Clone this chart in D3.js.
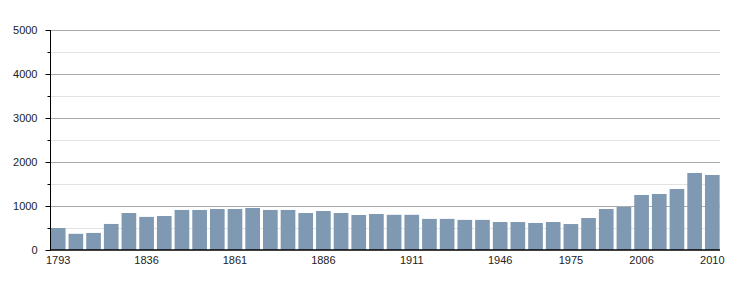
<!DOCTYPE html>
<html>
<head>
<meta charset="utf-8">
<script src="https://cdn.jsdelivr.net/npm/d3@7"></script>
<style>
  body { margin: 0; background: #fff; }
  svg text { font-family: "Liberation Sans", Arial, sans-serif; font-size: 11px; fill: #222; }
</style>
</head>
<body>
<div id="chart"></div>
<script>
const years = [1793, 1800, 1806, 1821, 1831, 1836, 1841, 1846, 1851, 1856,
  1861, 1866, 1872, 1876, 1881, 1886, 1891, 1896, 1901, 1906,
  1911, 1921, 1926, 1931, 1936, 1946, 1954, 1962, 1968, 1975,
  1982, 1990, 1999, 2006, 2007, 2008, 2009, 2010];
const population = [500, 368, 388, 592, 841, 752, 772, 910, 910, 932,
  932, 955, 910, 910, 841, 886, 841, 795, 818, 800,
  800, 707, 707, 684, 684, 636, 636, 614, 636, 590,
  727, 932, 977, 1250, 1273, 1386, 1750, 1705];
const labelYears = [1793, 1836, 1861, 1886, 1911, 1946, 1975, 2006, 2010];
const majorTicks = [0, 1000, 2000, 3000, 4000, 5000];
const minorTicks = [500, 1500, 2500, 3500, 4500];

const width = 750, height = 300;
const margin = { top: 30, right: 30, bottom: 50, left: 50 };

const svg = d3.select('#chart')
  .append('svg')
  .attr('width', width)
  .attr('height', height);

const x = d3.scaleBand()
  .domain(years.map(String))
  .range([margin.left + 0.5, width - margin.right])
  .paddingInner(0.17)
  .paddingOuter(0.02);

const y = d3.scaleLinear()
  .domain([0, 5000])
  .range([height - margin.bottom, margin.top]);

// grid lines
svg.selectAll('.minor')
  .data(minorTicks)
  .enter()
  .append('line')
  .attr('x1', margin.left)
  .attr('x2', width - margin.right)
  .attr('y1', d => Math.round(y(d)) + 0.5)
  .attr('y2', d => Math.round(y(d)) + 0.5)
  .attr('stroke', '#e2e2e2');

svg.selectAll('.major')
  .data(majorTicks.slice(1))
  .enter()
  .append('line')
  .attr('x1', margin.left)
  .attr('x2', width - margin.right)
  .attr('y1', d => Math.round(y(d)) + 0.5)
  .attr('y2', d => Math.round(y(d)) + 0.5)
  .attr('stroke', '#aaaaaa');

// bars
svg.selectAll('.bar')
  .data(d3.zip(years, population))
  .enter()
  .append('rect')
  .attr('class', 'bar')
  .attr('x', d => x(String(d[0])))
  .attr('y', d => y(d[1]))
  .attr('width', x.bandwidth())
  .attr('height', d => y(0) - y(d[1]))
  .attr('fill', '#7f99b2');

// y axis
const yAxis = svg.append('g')
  .attr('transform', `translate(${margin.left + 0.5}, 0)`)
  .call(d3.axisLeft(y).tickValues(majorTicks).tickSize(5).tickPadding(8).tickFormat(d3.format('d')));
yAxis.select('.domain').attr('stroke', '#000').attr('d', `M0,${y(5000)}V${y(0)}`);
yAxis.selectAll('.tick line').attr('stroke', '#000');
yAxis.selectAll('.tick text').attr('fill', '#222').style('font-size', '11px');

svg.append('g')
  .attr('transform', `translate(${margin.left + 0.5}, 0)`)
  .call(d3.axisLeft(y).tickValues(minorTicks).tickSize(3).tickFormat(''))
  .call(g => g.select('.domain').remove())
  .selectAll('.tick line').attr('stroke', '#000');

// x axis
const xAxis = svg.append('g')
  .attr('transform', `translate(0, ${y(0)})`)
  .call(d3.axisBottom(x).tickValues(labelYears.map(String)).tickSize(0).tickPadding(6));
xAxis.select('.domain').attr('stroke', '#000').attr('stroke-width', 1.5)
  .attr('d', `M${margin.left},0H${width - margin.right}`);
xAxis.selectAll('.tick text').attr('fill', '#222').style('font-size', '11px');
</script>
</body>
</html>
